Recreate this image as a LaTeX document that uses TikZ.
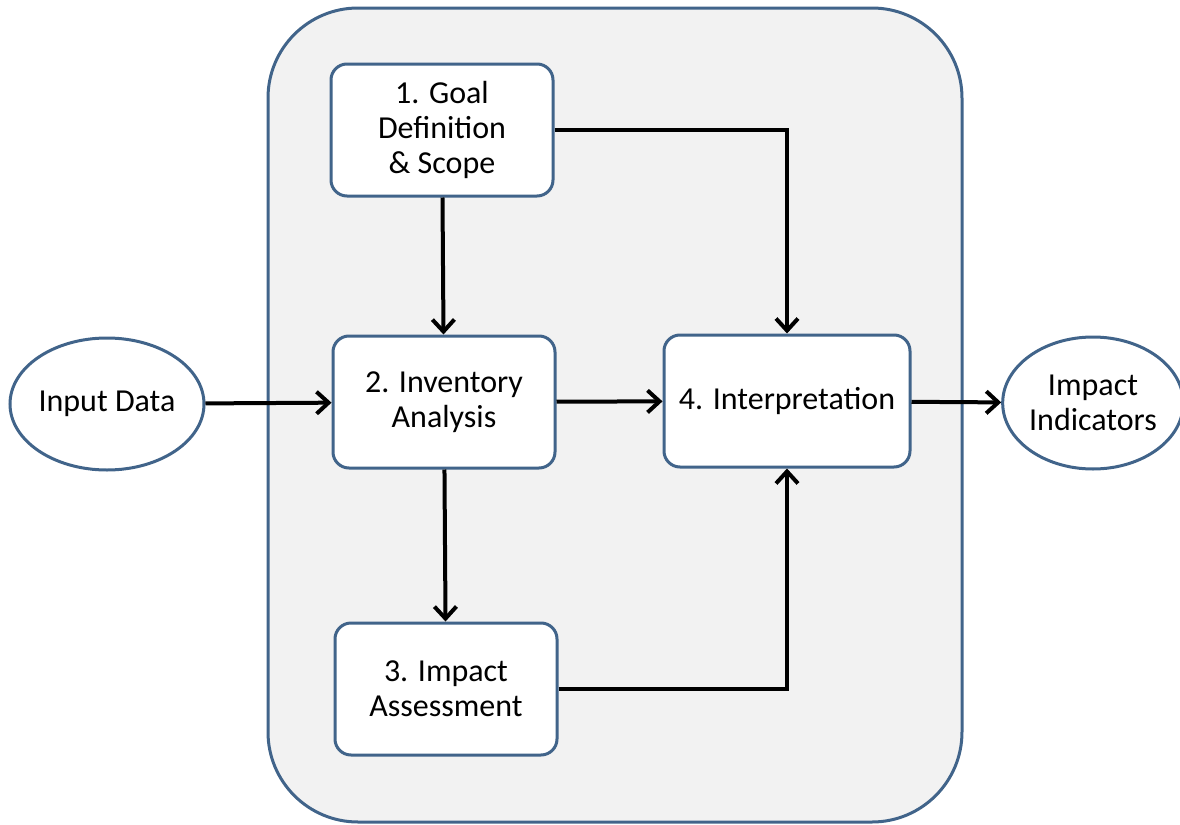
\documentclass[tikz,border=0pt]{standalone}
\usepackage{fontspec}
\setmainfont{Carlito}
\usetikzlibrary{arrows.meta,shapes.geometric}
\definecolor{frameblue}{RGB}{65,100,138}
\definecolor{panelgray}{RGB}{242,242,242}

\begin{document}
\begin{tikzpicture}[x=0.5pt,y=-0.5pt,->,>={Straight Barb[length=6pt,width=11pt]},
	line width=2pt,
	step box/.style={draw=frameblue,fill=white,line width=1.5pt,rounded corners=8pt,
		minimum width=111pt,minimum height=66pt,align=center,
		font=\fontsize{16}{17.5}\selectfont},
	end node/.style={ellipse,draw=frameblue,fill=white,line width=1.5pt,inner sep=0pt,
		minimum width=97pt,minimum height=66pt,align=center,
		font=\fontsize{16}{17.5}\selectfont}]
	
	\useasboundingbox (0,0) rectangle (1180,825);
	
	% background panel
	\node[draw=frameblue,fill=panelgray,line width=1.5pt,rounded corners=45pt,
		minimum width=347pt,minimum height=407pt] (frame) at (615,415) {};
	
	\node[end node] (input) at (107,404) {Input Data};
	\node[step box] (goal) at (442,130) {1. Goal\\Definition\\\& Scope};
	\node[step box] (inv) at (444,402) {2. Inventory\\Analysis};
	\node[step box] (impact) at (446,689) {3. Impact\\Assessment};
	\node[step box,minimum width=123pt] (interp) at (787,401) {4. Interpretation};
	\node[end node,minimum width=88pt] (indic) at (1093,403) {Impact\\Indicators};
	
	\path
	(input) edge (inv)
	(goal) edge (inv)
	(inv) edge (impact)
	(inv) edge (interp)
	(interp) edge (indic);
	\draw (goal.east) -| (interp.north);
	\draw (impact.east) -| (interp.south);
\end{tikzpicture}
\end{document}
